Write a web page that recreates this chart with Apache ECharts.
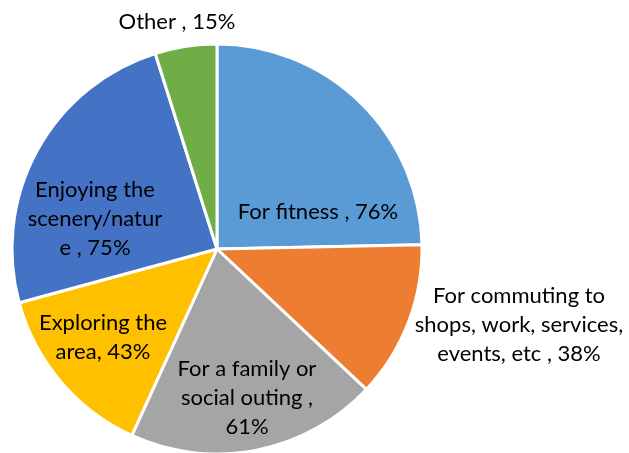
<!DOCTYPE html>
<html><head><meta charset="utf-8">
<script src="https://cdn.jsdelivr.net/npm/echarts@6/dist/echarts.min.js"></script>
<style>html,body{margin:0;padding:0;background:#fff}#c{width:629px;height:453px}</style>
</head><body><div id="c"></div>
<script>
const categories = ["For fitness", "For commuting to shops, work, services, events, etc", "For a family or social outing", "Exploring the area", "Enjoying the scenery/nature", "Other"];
const values = [76, 38, 61, 43, 75, 15];
const labelTexts = ["For fitness , 76%", "For commuting to\nshops, work, services,\nevents, etc , 38%", "For a family or\nsocial outing ,\n61%", "Exploring the\narea, 43%", "Enjoying the\nscenery/natur\ne , 75%", "Other , 15%"];
const colors = ["#5B9BD5", "#ED7D31", "#A5A5A5", "#FFC000", "#4472C4", "#70AD47"];
const labelPos = [[318, 212], [519, 325], [247, 398], [103, 337], [95, 219], [177, 22]];

const chart = echarts.init(document.getElementById('c'), null, {renderer: 'canvas'});
chart.setOption({
  animation: false,
  series: [{
    type: 'pie',
    center: [217, 249],
    radius: [0, 205],
    startAngle: 90,
    clockwise: true,
    data: categories.map((n, i) => ({name: n, value: values[i], itemStyle: {color: colors[i]}})),
    itemStyle: {borderColor: '#fff', borderWidth: 3},
    label: {
      show: true,
      position: 'inside',
      formatter: p => labelTexts[p.dataIndex],
      fontFamily: 'Lato',
      fontSize: 22,
      lineHeight: 29,
      color: '#000',
      align: 'center'
    },
    labelLine: {show: false},
    labelLayout: p => ({x: labelPos[p.dataIndex][0], y: labelPos[p.dataIndex][1], align: 'center', verticalAlign: 'middle'})
  }]
});
</script></body></html>
